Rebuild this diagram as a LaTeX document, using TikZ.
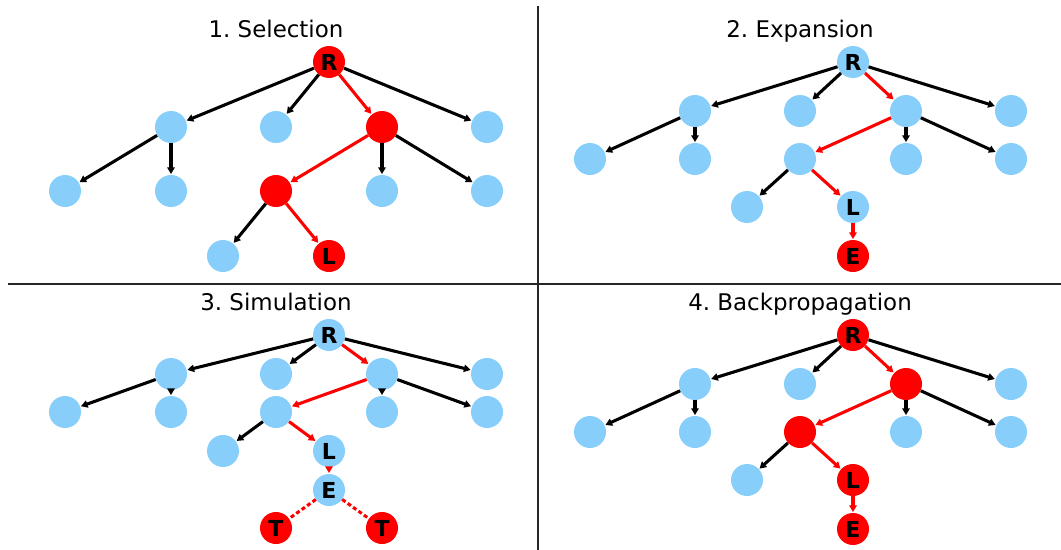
\documentclass[tikz,border=0pt]{standalone}
\usepackage{fontspec}
\setmainfont{DejaVu Sans}
\usetikzlibrary{arrows.meta}
\definecolor{nblue}{HTML}{87CEFA}
\definecolor{nred}{HTML}{FF0000}
\frenchspacing
\tikzset{
  bn/.style={circle,fill=nblue,minimum size=24pt,inner sep=0pt,font=\fontsize{16.5}{16.5}\selectfont\bfseries},
  rn/.style={circle,fill=nred,minimum size=24pt,inner sep=0pt,font=\fontsize{16.5}{16.5}\selectfont\bfseries},
  ed/.style={line width=2.3pt,-{Triangle[length=5pt,width=5.5pt]},shorten >=0.5pt},
  re/.style={ed,draw=nred},
  de/.style={line width=2.3pt,draw=nred,dash pattern=on 3pt off 2pt},
  ttl/.style={font=\fontsize{17.2}{17.2}\selectfont,anchor=base,inner sep=0pt},
  divider/.style={line width=1.4pt,draw=black!85}
}
\begin{document}
\begin{tikzpicture}[x=0.75pt,y=-0.75pt]
\useasboundingbox (0,0) rectangle (1061,550);
% dividers
\coordinate (vt) at (538,6); \coordinate (vb) at (538,550);
\coordinate (hl) at (8,284); \coordinate (hr) at (1061,284);
\draw[divider] (vt) -- (vb);
\draw[divider] (hl) -- (hr);
% titles
\node[ttl] (t1) at (276,37) {1. Selection};
\node[ttl] (t2) at (800,37) {2. Expansion};
\node[ttl] (t3) at (276,310) {3. Simulation};
\node[ttl] (t4) at (800,310) {4. Backpropagation};
% ---- panel 1
\node[rn] (r1) at (329,62) {R};
\node[bn] (a1) at (171,127) {};
\node[bn] (b1) at (276,127) {};
\node[rn] (c1) at (382,127) {};
\node[bn] (d1) at (487,127) {};
\node[bn] (a1a) at (65,191) {};
\node[bn] (a1b) at (171,191) {};
\node[rn] (c1a) at (276,191) {};
\node[bn] (c1b) at (382,191) {};
\node[bn] (c1c) at (487,191) {};
\node[bn] (e1a) at (223,256) {};
\node[rn] (e1b) at (329,256) {L};
\draw[ed] (r1) -- (a1);
\draw[ed] (r1) -- (b1);
\draw[re] (r1) -- (c1);
\draw[ed] (r1) -- (d1);
\draw[ed] (a1) -- (a1a);
\draw[ed] (a1) -- (a1b);
\draw[re] (c1) -- (c1a);
\draw[ed] (c1) -- (c1b);
\draw[ed] (c1) -- (c1c);
\draw[ed] (c1a) -- (e1a);
\draw[re] (c1a) -- (e1b);
% ---- panel 2
\node[bn] (r2) at (853,62) {R};
\node[bn] (a2) at (695,111) {};
\node[bn] (b2) at (800,111) {};
\node[bn] (c2) at (906,111) {};
\node[bn] (d2) at (1011,111) {};
\node[bn] (a2a) at (590,159) {};
\node[bn] (a2b) at (695,159) {};
\node[bn] (c2a) at (800,159) {};
\node[bn] (c2b) at (906,159) {};
\node[bn] (c2c) at (1011,159) {};
\node[bn] (e2a) at (747,207) {};
\node[bn] (e2b) at (853,207) {L};
\node[rn] (f2) at (853,256) {E};
\draw[ed] (r2) -- (a2);
\draw[ed] (r2) -- (b2);
\draw[re] (r2) -- (c2);
\draw[ed] (r2) -- (d2);
\draw[ed] (a2) -- (a2a);
\draw[ed] (a2) -- (a2b);
\draw[re] (c2) -- (c2a);
\draw[ed] (c2) -- (c2b);
\draw[ed] (c2) -- (c2c);
\draw[ed] (c2a) -- (e2a);
\draw[re] (c2a) -- (e2b);
\draw[re] (e2b) -- (f2);
% ---- panel 3
\node[bn] (r3) at (329,335) {R};
\node[bn] (a3) at (171,374) {};
\node[bn] (b3) at (276,374) {};
\node[bn] (c3) at (382,374) {};
\node[bn] (d3) at (487,374) {};
\node[bn] (a3a) at (65,412) {};
\node[bn] (a3b) at (171,412) {};
\node[bn] (c3a) at (276,412) {};
\node[bn] (c3b) at (382,412) {};
\node[bn] (c3c) at (487,412) {};
\node[bn] (e3a) at (223,451) {};
\node[bn] (e3b) at (329,451) {L};
\node[bn] (f3) at (329,490) {E};
\node[rn] (t3a) at (276,528) {T};
\node[rn] (t3b) at (382,528) {T};
\draw[ed] (r3) -- (a3);
\draw[ed] (r3) -- (b3);
\draw[re] (r3) -- (c3);
\draw[ed] (r3) -- (d3);
\draw[ed] (a3) -- (a3a);
\draw[ed] (a3) -- (a3b);
\draw[re] (c3) -- (c3a);
\draw[ed] (c3) -- (c3b);
\draw[ed] (c3) -- (c3c);
\draw[ed] (c3a) -- (e3a);
\draw[re] (c3a) -- (e3b);
\draw[re] (e3b) -- (f3);
\draw[de] (f3) -- (t3a);
\draw[de] (f3) -- (t3b);
% ---- panel 4
\node[rn] (r4) at (853,335) {R};
\node[bn] (a4) at (695,384) {};
\node[bn] (b4) at (800,384) {};
\node[rn] (c4) at (906,384) {};
\node[bn] (d4) at (1011,384) {};
\node[bn] (a4a) at (590,432) {};
\node[bn] (a4b) at (695,432) {};
\node[rn] (c4a) at (800,432) {};
\node[bn] (c4b) at (906,432) {};
\node[bn] (c4c) at (1011,432) {};
\node[bn] (e4a) at (747,480) {};
\node[rn] (e4b) at (853,480) {L};
\node[rn] (f4) at (853,529) {E};
\draw[ed] (r4) -- (a4);
\draw[ed] (r4) -- (b4);
\draw[re] (r4) -- (c4);
\draw[ed] (r4) -- (d4);
\draw[ed] (a4) -- (a4a);
\draw[ed] (a4) -- (a4b);
\draw[re] (c4) -- (c4a);
\draw[ed] (c4) -- (c4b);
\draw[ed] (c4) -- (c4c);
\draw[ed] (c4a) -- (e4a);
\draw[re] (c4a) -- (e4b);
\draw[re] (e4b) -- (f4);
\end{tikzpicture}
\end{document}
